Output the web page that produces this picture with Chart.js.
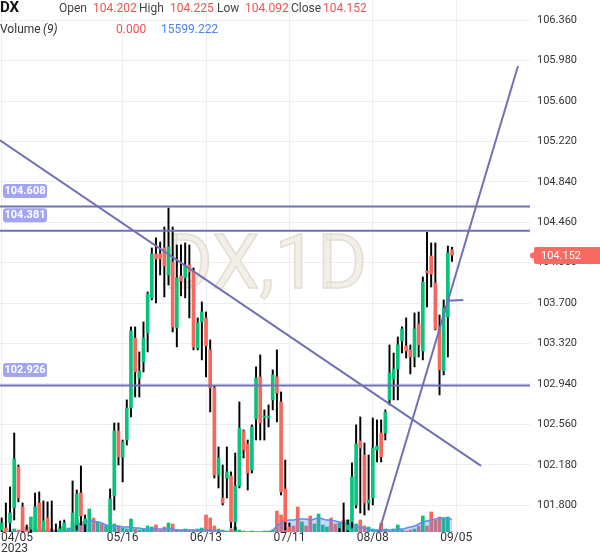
<!DOCTYPE html>
<html>
<head>
<meta charset="utf-8">
<script src="https://cdn.jsdelivr.net/npm/chart.js@4.4.0/dist/chart.umd.min.js"></script>
<style>
  html, body { margin: 0; padding: 0; background: #fff; }
</style>
</head>
<body>
<canvas id="chart" width="600" height="558"></canvas>
<script>
const dates = [
  '04/05','04/06','04/07','04/10','04/11','04/12','04/13','04/14','04/17','04/18',
  '04/19','04/20','04/21','04/24','04/25','04/26','04/27','04/28','05/01','05/02',
  '05/03','05/04','05/05','05/08','05/09','05/10','05/11','05/12','05/15','05/16',
  '05/17','05/18','05/19','05/22','05/23','05/24','05/25','05/26','05/29','05/30',
  '05/31','06/01','06/02','06/05','06/06','06/07','06/08','06/09','06/12','06/13',
  '06/14','06/15','06/16','06/19','06/20','06/21','06/22','06/23','06/26','06/27',
  '06/28','06/29','06/30','07/03','07/04','07/05','07/06','07/07','07/10','07/11',
  '07/12','07/13','07/14','07/17','07/18','07/19','07/20','07/21','07/24','07/25',
  '07/26','07/27','07/28','07/31','08/01','08/02','08/03','08/04','08/07','08/08',
  '08/09','08/10','08/11','08/14','08/15','08/16','08/17','08/18','08/21','08/22',
  '08/23','08/24','08/25','08/28','08/29','08/30','08/31','09/01','09/04'
];
const open = [
  101.567,101.586,101.633,101.774,102.160,101.784,101.567,101.426,101.520,101.821,
  101.520,101.680,101.520,101.426,101.520,101.520,101.379,101.473,101.614,101.915,
  101.624,101.350,101.400,101.300,101.380,101.330,101.520,101.887,102.498,102.254,
  102.413,102.714,103.372,102.996,103.147,103.420,103.749,104.162,104.162,104.219,
  103.965,104.087,103.467,103.955,103.937,104.059,103.993,103.278,103.523,103.561,
  103.260,102.902,102.084,101.868,102.056,102.075,101.643,101.981,102.498,102.376,
  102.131,102.611,103.006,102.625,102.620,102.790,103.006,102.771,101.953,101.596,
  101.280,100.520,99.850,99.900,99.880,99.860,100.280,100.780,101.050,101.350,
  101.250,100.920,101.500,101.567,101.643,101.802,102.404,102.272,101.821,101.868,
  102.319,102.479,102.479,102.790,102.987,103.081,103.344,103.297,103.260,103.194,
  103.504,103.250,104.002,104.143,103.890,103.467,103.062,103.570,104.202
];
const high = [
  101.680,101.821,101.972,102.479,102.178,101.821,101.614,101.567,101.915,101.925,
  101.840,101.831,101.840,101.624,101.652,101.661,101.492,102.028,101.943,102.169,
  101.708,101.470,101.460,101.460,101.480,101.500,101.953,102.573,102.573,102.413,
  102.790,103.476,103.476,103.241,103.523,103.805,104.219,104.313,104.275,104.416,
  104.595,104.416,104.247,104.247,104.266,104.247,104.031,103.561,103.711,103.617,
  103.354,102.921,102.348,102.178,102.348,102.113,102.291,102.771,102.508,102.413,
  102.555,103.100,103.213,102.696,102.743,103.072,103.260,102.865,102.225,101.633,
  101.320,100.580,100.050,100.050,100.000,100.400,100.950,101.200,101.450,101.400,
  101.300,101.580,101.821,101.661,102.197,102.555,102.630,102.385,102.272,102.620,
  102.602,102.602,102.696,103.307,103.231,103.382,103.476,103.561,103.307,103.608,
  103.617,103.946,104.369,104.266,104.266,103.589,103.730,104.237,104.225
];
const low = [
  101.473,101.379,101.549,101.661,101.831,101.473,101.332,101.285,101.473,101.426,
  101.426,101.398,101.332,101.285,101.473,101.473,101.285,101.426,101.567,101.614,
  101.520,101.280,101.200,101.220,101.250,101.280,101.473,101.755,102.178,102.019,
  102.366,102.630,102.818,102.818,103.053,103.241,103.730,103.702,103.965,103.758,
  103.871,103.429,103.288,103.767,103.749,103.561,103.260,103.260,103.166,103.006,
  102.677,102.056,101.962,101.802,101.868,101.586,101.567,101.962,102.244,101.943,
  102.103,102.413,102.413,102.413,102.536,102.696,102.583,101.896,101.567,101.191,
  100.450,99.750,99.550,99.700,99.550,99.800,100.200,100.600,100.950,101.000,
  100.800,100.850,101.300,101.450,101.586,101.774,101.727,101.708,101.755,101.802,
  102.207,102.207,102.413,102.743,102.790,102.790,103.231,103.184,103.034,103.100,
  103.194,103.166,103.664,103.852,103.448,102.837,103.025,103.194,104.092
];
const close = [
  101.633,101.426,101.727,102.235,101.868,101.558,101.426,101.520,101.784,101.520,
  101.652,101.473,101.426,101.379,101.577,101.633,101.426,101.727,101.906,101.699,
  101.671,101.400,101.300,101.380,101.330,101.450,101.859,102.498,102.254,102.395,
  102.714,103.438,103.053,103.062,103.372,103.786,104.162,104.115,104.115,104.049,
  104.228,103.476,103.937,103.908,104.049,103.993,103.288,103.514,103.617,103.297,
  102.902,102.084,102.244,101.821,102.113,101.643,101.981,102.526,102.319,102.103,
  102.536,102.996,102.573,102.639,102.639,103.025,102.855,101.925,101.643,101.285,
  100.520,99.850,99.900,99.880,99.860,100.280,100.780,101.050,101.350,101.250,
  100.920,101.500,101.450,101.614,102.066,102.376,102.338,101.821,101.849,102.338,
  102.357,102.254,102.677,103.043,103.081,103.307,103.457,103.250,103.194,103.457,
  103.307,103.899,103.984,103.974,103.457,103.072,103.655,104.172,104.152
];
const volume = [
  0,0,2400,3600,2400,6000,6000,18000,4800,3600,
  3600,2400,3600,2400,6000,8400,4800,12000,14400,9600,
  12000,27600,16800,12000,9600,7200,6000,9600,7200,4800,
  3600,15600,3600,2400,3600,7200,6000,8400,2400,6000,
  10800,9600,2400,2400,3600,2400,2400,3600,4800,20400,
  16800,7200,3600,2400,1200,3600,6000,2400,1200,0,
  1200,0,0,1200,1200,2400,25200,20400,16800,4800,
  7200,30000,12000,7200,19200,9600,21600,8400,6000,16800,
  9600,10800,14400,14400,12000,9600,14400,7200,6000,3600,
  2400,10800,3600,1200,3600,8400,2400,1200,2400,3600,
  7200,19200,7200,24000,14400,18000,16800,18000,0
];
const volumeMA = [
  0,0,0,0,0,0,0,0,0,1200,
  1200,1200,1200,1200,1200,1200,2400,4800,8400,10800,
  12000,13200,13200,12000,10800,8400,7200,7200,7200,6000,
  6000,6000,4800,4800,3600,3600,3600,3600,3600,3600,
  3600,3600,2400,2400,2400,2400,2400,2400,2400,2400,
  2400,1200,1200,1200,0,0,0,0,0,0,
  0,0,0,0,0,2400,7200,10800,13200,14400,
  14400,15600,15600,15600,14400,15600,16800,15600,14400,14400,
  13200,12000,10800,9600,8400,7200,6000,4800,3600,2400,
  2400,2400,2400,2400,2400,3600,3600,4800,6000,7200,
  9600,12000,13200,14400,15600,16800,16800,15600,15599.222
];

const yTicks = [101.8,102.18,102.56,102.94,103.32,103.7,104.08,104.46,104.84,105.22,105.6,105.98,106.36];
const xTickIdx = [0, 29, 49, 69, 89, 109];
const xTickText = ['04/05', '05/16', '06/13', '07/11', '08/08', '09/05'];
const levels = [104.608, 104.381, 102.926];
const trendDown = [{x: -0.41, y: 105.231}, {x: 114.95, y: 102.169}];
const trendUp = [{x: 90.46, y: 101.548}, {x: 123.82, y: 105.930}];
const ray = [{x: 106.72, y: 103.723}, {x: 110.7, y: 103.73}];

const UP = '#08c47a';
const DOWN = '#f7675b';
const LINE = '#7070b8';

const candleColor = dates.map((d, i) => close[i] >= open[i] ? UP : DOWN);
const bodies = dates.map((d, i) => ({x: i, y: [open[i], close[i]]}));
const wicks = dates.map((d, i) => ({x: i, y: [low[i], high[i]]}));
const vols = dates.map((d, i) => ({x: i, y: volume[i]}));
const volMA = dates.map((d, i) => ({x: i, y: volumeMA[i]}));

const overlay = {
  id: 'overlay',
  beforeDatasetsDraw(chart) {
    const {ctx, chartArea} = chart;
    ctx.save();
    ctx.beginPath();
    ctx.rect(chartArea.left, chartArea.top, chartArea.width, chartArea.height);
    ctx.clip();
    ctx.font = '76px Roboto';
    ctx.textAlign = 'center';
    ctx.textBaseline = 'alphabetic';
    ctx.fillStyle = '#f2efe9';
    ctx.fillText('DX,1D', 265, 288);
    ctx.strokeStyle = '#e4ded2';
    ctx.lineWidth = 1.5;
    ctx.strokeText('DX,1D', 265, 288);
    ctx.restore();
  },
  afterDraw(chart) {
    const {ctx} = chart;
    const xs = chart.scales.x;
    const ys = chart.scales.y;
    const last = dates.length - 1;
    ctx.save();

    // level labels on the left
    ctx.font = 'bold 11px Roboto';
    ctx.textAlign = 'center';
    ctx.textBaseline = 'middle';
    levels.forEach(v => {
      const py = ys.getPixelForValue(v);
      ctx.fillStyle = '#a3a5f3';
      ctx.beginPath();
      ctx.roundRect(3, py - 22.5, 44, 14, 3);
      ctx.fill();
      ctx.fillStyle = '#fff';
      ctx.fillText(v.toFixed(3), 25, py - 15.3);
    });

    // last price tag
    const lp = ys.getPixelForValue(close[last]);
    ctx.fillStyle = '#f96a63';
    ctx.beginPath();
    ctx.roundRect(534, lp - 8, 70, 17, 2);
    ctx.fill();
    ctx.beginPath();
    ctx.arc(533, lp + 0.5, 3, 0, Math.PI * 2);
    ctx.fill();
    ctx.fillStyle = '#fff';
    ctx.font = '11px Roboto';
    ctx.textAlign = 'left';
    ctx.fillText(close[last].toFixed(3), 541, lp + 1);

    // x axis labels
    ctx.fillStyle = '#333';
    ctx.font = '12px Roboto';
    ctx.textBaseline = 'middle';
    xTickIdx.forEach((v, k) => {
      const px = xs.getPixelForValue(v);
      if (k === 0) {
        ctx.textAlign = 'left';
        ctx.fillText(xTickText[k], 1, 538);
        ctx.fillText('2023', 1, 549);
      } else {
        ctx.textAlign = 'center';
        ctx.fillText(xTickText[k], px, 538);
      }
    });

    // header
    ctx.textAlign = 'left';
    ctx.fillStyle = '#111';
    ctx.font = 'bold 15px Roboto';
    ctx.fillText('DX', 0, 8);
    const red = '#ef5350';
    const head = [
      ['Open', 59, '#444'], [open[last].toFixed(3), 93, red],
      ['High', 139, '#444'], [high[last].toFixed(3), 170, red],
      ['Low', 217, '#444'], [low[last].toFixed(3), 245, red],
      ['Close', 291, '#444'], [close[last].toFixed(3), 323, red]
    ];
    ctx.font = '12px Roboto';
    head.forEach(h => { ctx.fillStyle = h[2]; ctx.fillText(h[0], h[1], 9); });
    ctx.fillStyle = '#333';
    ctx.fillText('Volume', 0, 30);
    ctx.font = 'italic 12px Roboto';
    ctx.fillText('(9)', 43, 30);
    ctx.font = '12px Roboto';
    ctx.fillStyle = red;
    ctx.fillText(volume[last].toFixed(3), 116, 30);
    ctx.fillStyle = '#4a86e8';
    ctx.fillText(volumeMA[last].toFixed(3), 161, 30);
    ctx.restore();
  }
};

const lineDs = (data, order) => ({
  type: 'line', data, borderColor: LINE, borderWidth: 2,
  pointRadius: 0, fill: false, order, yAxisID: 'y'
});

new Chart(document.getElementById('chart'), {
  type: 'bar',
  data: {
    datasets: [
      lineDs(levels.map(v => ({x: -2, y: v})).slice(0, 1).concat([{x: 130, y: levels[0]}]), 0),
      lineDs([{x: -2, y: levels[1]}, {x: 130, y: levels[1]}], 0),
      lineDs([{x: -2, y: levels[2]}, {x: 130, y: levels[2]}], 0),
      lineDs(trendDown, 0),
      lineDs(trendUp, 0),
      lineDs(ray, 0),
      {
        data: bodies, backgroundColor: candleColor, borderWidth: 0,
        grouped: false, categoryPercentage: 1, barPercentage: 1,
        maxBarThickness: 3, minBarLength: 1, clip: 0, order: 1, yAxisID: 'y'
      },
      {
        data: wicks, backgroundColor: '#000', borderWidth: 0,
        grouped: false, categoryPercentage: 1, barPercentage: 1,
        maxBarThickness: 1.3, clip: 0, order: 2, yAxisID: 'y'
      },
      {
        type: 'line', data: volMA, borderColor: '#5b8def', borderWidth: 1.5,
        backgroundColor: 'rgba(91,141,239,0.35)', fill: 'origin', tension: 0.35,
        pointRadius: 0, order: 3, yAxisID: 'vol'
      },
      {
        data: vols, backgroundColor: candleColor, borderWidth: 0,
        grouped: false, categoryPercentage: 1, barPercentage: 1,
        maxBarThickness: 3, clip: 0, order: 4, yAxisID: 'vol'
      }
    ]
  },
  options: {
    responsive: false,
    animation: false,
    devicePixelRatio: 1,
    layout: { padding: 0 },
    plugins: { legend: { display: false }, tooltip: { enabled: false } },
    scales: {
      x: {
        type: 'linear', position: 'bottom', min: -0.41, max: 126.7, offset: false,
        grid: { color: '#eeeeee', drawTicks: false, offset: false },
        border: { display: false },
        ticks: { display: false },
        afterBuildTicks: s => { s.ticks = xTickIdx.map(v => ({value: v})); },
        afterFit: s => { s.height = 26; s.paddingLeft = 0; s.paddingRight = 0; }
      },
      y: {
        type: 'linear', position: 'right', min: 101.548, max: 106.55,
        grid: { color: '#eeeeee', drawTicks: false },
        border: { display: false },
        ticks: {
          color: '#333', font: { family: 'Roboto', size: 11 }, padding: 7,
          callback: v => v.toFixed(3)
        },
        afterBuildTicks: s => { s.ticks = yTicks.map(v => ({value: v})); },
        afterFit: s => { s.width = 70; s.paddingTop = 0; s.paddingBottom = 0; }
      },
      vol: {
        type: 'linear', display: false, min: 0, max: 638400
      }
    }
  },
  plugins: [overlay]
});
</script>
</body>
</html>
